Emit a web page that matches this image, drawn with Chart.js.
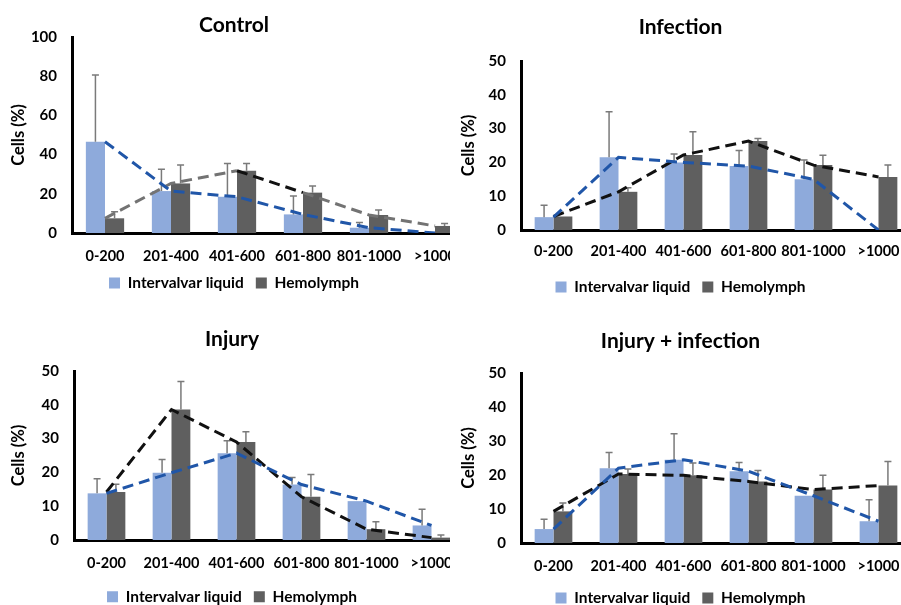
<!DOCTYPE html>
<html>
<head>
<meta charset="utf-8">
<script src="https://cdn.jsdelivr.net/npm/chart.js@4.4.1/dist/chart.umd.min.js"></script>
<style>
html,body{margin:0;padding:0;background:#fff;width:901px;height:605px;overflow:hidden;}
.panel{position:absolute;overflow:hidden;}
.panel canvas{position:absolute;left:0;top:0;}
</style>
</head>
<body>
<div class="panel" style="left:0;top:0;width:450px;height:300px"><canvas id="c1" width="485" height="300"></canvas></div>
<div class="panel" style="left:450px;top:0;width:451px;height:300px"><canvas id="c2" width="475" height="300"></canvas></div>
<div class="panel" style="left:0;top:300px;width:450px;height:305px"><canvas id="c3" width="485" height="305"></canvas></div>
<div class="panel" style="left:450px;top:300px;width:451px;height:305px"><canvas id="c4" width="475" height="305"></canvas></div>
<script>
const categories = ['0-200', '201-400', '401-600', '601-800', '801-1000', '>1000'];
const seriesNames = ['Intervalvar liquid', 'Hemolymph'];

const controlIntervalvar = [46.6, 21.4, 18.5, 9.5, 2.7, 0];
const controlIntervalvarErr = [34, 11.2, 17, 9.4, 2.6, 0];
const controlHemolymph = [7.5, 25.3, 31.8, 20.6, 9.2, 3.6];
const controlHemolymphErr = [3.4, 9.4, 3.7, 3.4, 2.5, 1.3];

const infectionIntervalvar = [3.8, 21.5, 20, 18.9, 15, 0];
const infectionIntervalvarErr = [3.5, 13.5, 2.5, 4.6, 5.7, 0];
const infectionHemolymph = [4, 11.3, 22.2, 26.3, 19.2, 15.7];
const infectionHemolymphErr = [0, 1.2, 6.9, 0.8, 2.9, 3.5];

const injuryIntervalvar = [13.8, 19.9, 25.7, 16.4, 11.5, 4.3];
const injuryIntervalvarErr = [4.3, 3.9, 3.7, 2.1, 0, 4.8];
const injuryHemolymph = [14.2, 38.6, 29, 12.8, 3.2, 0.7];
const injuryHemolymphErr = [2.3, 8.3, 3, 6.6, 2.2, 0.8];

const comboIntervalvar = [4.1, 22, 24.5, 21.1, 13.9, 6.4];
const comboIntervalvarErr = [2.9, 4.6, 7.6, 2.6, 0, 6.3];
const comboHemolymph = [9.3, 20.3, 19.9, 18.1, 15.7, 16.9];
const comboHemolymphErr = [2.5, 1.5, 3.6, 3.2, 4.2, 7.1];

const FONT = 'Lato, "Open Sans", sans-serif';
Chart.defaults.font.family = FONT;
Chart.defaults.color = '#000';

const BLUE_BAR = '#8eaadb';
const GRAY_BAR = '#5f5f5f';
const BLUE_LINE = '#2056a8';
const BLACK_LINE = '#111111';
const GRAY_LINE = '#737373';
const LEG_FONT = 15.5;
const LEG_PAD = 12;
const LEGEND_H = LEG_FONT + LEG_PAD + 10;

const errorBarPlugin = {
  id: 'errorBars',
  afterDatasetDraw(chart, args) {
    const ds = chart.data.datasets[args.index];
    if (!ds.errors) return;
    const yScale = chart.scales.y;
    const c = chart.ctx;
    c.save();
    c.strokeStyle = '#7a7a7a';
    c.lineWidth = 1.5;
    args.meta.data.forEach((bar, i) => {
      const e = ds.errors[i];
      if (!e) return;
      const yTop = yScale.getPixelForValue(ds.data[i] + e);
      c.beginPath();
      c.moveTo(bar.x, bar.y);
      c.lineTo(bar.x, yTop);
      c.moveTo(bar.x - 3.5, yTop);
      c.lineTo(bar.x + 3.5, yTop);
      c.stroke();
    });
    c.restore();
  }
};

function buildChart(id, o) {
  const canvas = document.getElementById(id);
  const legendTop = o.legendCenter - LEG_PAD - LEG_FONT / 2;
  const xHeight = legendTop - o.plotBottom;
  canvas.height = Math.ceil(legendTop + LEGEND_H);
  const extraBottom = canvas.height - (legendTop + LEGEND_H);
  return new Chart(canvas, {
    type: 'bar',
    data: {
      labels: categories,
      datasets: [
        { type: 'line', label: 'iv-trend', data: o.iv, borderColor: BLUE_LINE, borderWidth: 3,
          borderDash: [11, 6], pointRadius: 0, fill: false, tension: 0, order: 0 },
        { type: 'line', label: 'hm-trend', data: o.hm, borderColor: o.hmLine, borderWidth: 3,
          borderDash: [11, 6], pointRadius: 0, fill: false, tension: 0, order: 1,
          segment: o.segment || {} },
        { label: seriesNames[0], data: o.iv, errors: o.ivErr, backgroundColor: BLUE_BAR,
          categoryPercentage: 0.58, barPercentage: 1.0, order: 2 },
        { label: seriesNames[1], data: o.hm, errors: o.hmErr, backgroundColor: GRAY_BAR,
          categoryPercentage: 0.58, barPercentage: 1.0, order: 3 }
      ]
    },
    options: {
      responsive: false,
      animation: false,
      layout: { padding: { left: 0, right: o.padRight, top: 0, bottom: extraBottom } },
      plugins: {
        title: { display: true, text: o.title, color: '#000',
          font: { size: 21, weight: 'bold', family: FONT, lineHeight: 1.1 },
          padding: { top: o.titleTop, bottom: o.titleBottom } },
        legend: { position: 'bottom',
          labels: { boxWidth: 11, boxHeight: 11, padding: LEG_PAD, color: '#000',
            font: { size: LEG_FONT, weight: 'bold', family: FONT },
            filter: (item, data) => data.datasets[item.datasetIndex].type !== 'line' } },
        tooltip: { enabled: false }
      },
      scales: {
        x: {
          offset: true,
          grid: { display: false, drawTicks: false },
          border: { display: true, color: '#000', width: 3 },
          ticks: { color: '#000', padding: o.xPad, maxRotation: 0, autoSkip: false,
            font: { size: 14.5, weight: 'bold', family: FONT } },
          afterFit: s => { s.height = xHeight; }
        },
        y: {
          min: 0, max: o.yMax,
          grid: { display: false, drawTicks: false },
          border: { display: true, color: '#000', width: 3 },
          ticks: { stepSize: o.yStep, color: '#000', padding: 15,
            font: { size: 15, weight: 'bold', family: FONT } },
          title: { display: true, text: 'Cells (%)', color: '#000',
            font: { size: 16.5, weight: 'bold', family: FONT }, padding: { top: 9, bottom: 0 } },
          afterFit: s => { s.width = o.yWidth; }
        }
      }
    },
    plugins: [errorBarPlugin]
  });
}

buildChart('c1', { title: 'Control', iv: controlIntervalvar, ivErr: controlIntervalvarErr,
  hm: controlHemolymph, hmErr: controlHemolymphErr, hmLine: GRAY_LINE,
  segment: { borderColor: ctx => ctx.p0DataIndex === 2 ? BLACK_LINE : GRAY_LINE },
  yMax: 100, yStep: 20, padRight: 17, yWidth: 72, titleTop: 14, titleBottom: 0,
  xPad: 14.8, plotBottom: 233, legendCenter: 283 });

buildChart('c2', { title: 'Infection', iv: infectionIntervalvar, ivErr: infectionIntervalvarErr,
  hm: infectionHemolymph, hmErr: infectionHemolymphErr, hmLine: BLACK_LINE,
  yMax: 50, yStep: 10, padRight: 14, yWidth: 71, titleTop: 16, titleBottom: 21.9,
  xPad: 13, plotBottom: 230, legendCenter: 287 });

buildChart('c3', { title: 'Injury', iv: injuryIntervalvar, ivErr: injuryIntervalvarErr,
  hm: injuryHemolymph, hmErr: injuryHemolymphErr, hmLine: BLACK_LINE,
  yMax: 50, yStep: 10, padRight: 21, yWidth: 74, titleTop: 27.5, titleBottom: 20.4,
  xPad: 14.8, plotBottom: 240, legendCenter: 296.7 });

buildChart('c4', { title: 'Injury + infection', iv: comboIntervalvar, ivErr: comboIntervalvarErr,
  hm: comboHemolymph, hmErr: comboHemolymphErr, hmLine: BLACK_LINE,
  yMax: 50, yStep: 10, padRight: 14, yWidth: 71, titleTop: 29.5, titleBottom: 20.4,
  xPad: 14.8, plotBottom: 243, legendCenter: 298 });
</script>
</body>
</html>
